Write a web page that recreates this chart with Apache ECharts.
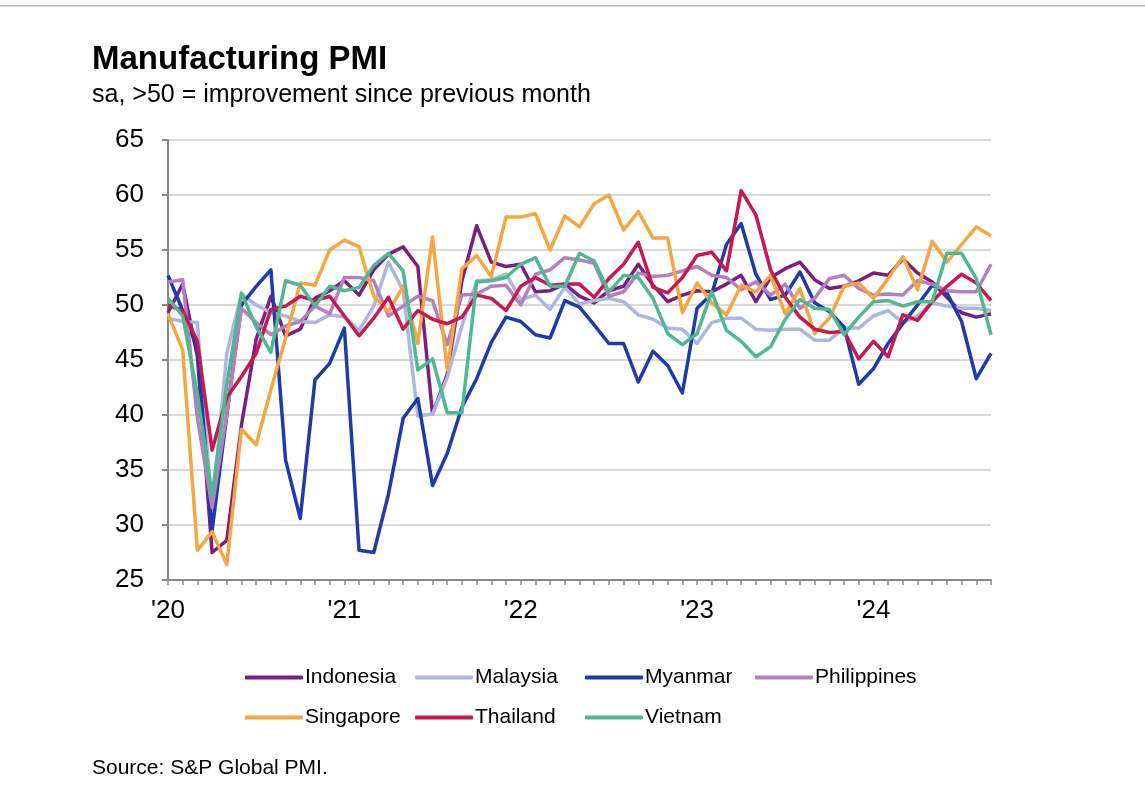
<!DOCTYPE html>
<html><head><meta charset="utf-8">
<script src="https://cdn.jsdelivr.net/npm/echarts@6/dist/echarts.min.js"></script>
<style>html,body{margin:0;padding:0;background:#fff;}#c{width:1145px;height:806px;}</style>
</head><body><div id="c"></div>
<script>
const months = [
 "2020-01","2020-02","2020-03","2020-04","2020-05","2020-06","2020-07","2020-08","2020-09","2020-10","2020-11","2020-12",
 "2021-01","2021-02","2021-03","2021-04","2021-05","2021-06","2021-07","2021-08","2021-09","2021-10","2021-11","2021-12",
 "2022-01","2022-02","2022-03","2022-04","2022-05","2022-06","2022-07","2022-08","2022-09","2022-10","2022-11","2022-12",
 "2023-01","2023-02","2023-03","2023-04","2023-05","2023-06","2023-07","2023-08","2023-09","2023-10","2023-11","2023-12",
 "2024-01","2024-02","2024-03","2024-04","2024-05","2024-06","2024-07","2024-08","2024-09"
];
const yearTickLabels = {"2020-01":"'20","2021-01":"'21","2022-01":"'22","2023-01":"'23","2024-01":"'24"};
const yTicks = {min:25, max:65, interval:5};

const indonesia = [49.3,51.9,45.3,27.5,28.6,39.1,46.9,50.8,47.2,47.8,50.6,51.3, 52.2,50.9,53.2,54.6,55.3,53.5,40.1,43.7,52.2,57.2,53.9,53.5, 53.7,51.2,51.3,51.9,50.8,50.2,51.3,51.7,53.7,51.8,50.3,50.9, 51.3,51.2,51.9,52.7,50.3,52.5,53.3,53.9,52.3,51.5,51.7,52.2, 52.9,52.7,54.2,52.9,52.1,50.7,49.3,48.9,49.2];
const malaysia = [48.8,48.5,48.4,31.3,45.6,51.0,50.0,49.3,49.0,48.5,48.4,49.1, 48.9,47.7,49.9,53.9,51.3,39.9,40.1,43.4,48.1,52.2,52.3,52.8, 50.5,50.9,49.6,51.6,50.1,50.4,50.6,50.3,49.1,48.7,47.9,47.8, 46.5,48.4,48.8,48.8,47.8,47.7,47.8,47.8,46.8,46.8,47.9,47.9, 49.0,49.5,48.4,49.0,50.2,49.9,49.7,49.7,49.5];
const myanmar = [52.7,49.5,46.0,29.5,40.0,50.0,51.7,53.2,35.9,30.6,43.2,44.7, 47.9,27.7,27.5,32.8,39.7,41.5,33.6,36.5,40.7,43.3,46.6,48.9, 48.5,47.3,47.0,50.4,49.8,48.2,46.5,46.5,43.0,45.8,44.5,42.0, 49.7,51.0,55.5,57.4,52.8,50.5,50.9,53.0,50.2,49.4,48.0,42.8, 44.2,46.5,48.3,50.0,51.8,51.1,48.5,43.3,45.6];
const philippines = [52.1,52.3,39.7,31.6,40.1,49.7,48.4,47.3,48.1,48.5,49.9,49.2, 52.5,52.5,52.2,49.0,49.9,50.8,50.4,46.4,50.9,51.0,51.7,51.8, 50.0,52.8,53.2,54.3,54.1,53.8,50.8,51.2,52.9,52.6,52.7,53.1, 53.5,52.7,52.5,51.4,52.1,50.9,51.9,49.7,50.6,52.4,52.7,51.5, 50.9,51.0,50.9,52.2,51.9,51.3,51.2,51.2,53.7];
const singapore = [49.2,45.9,27.7,29.4,26.4,38.7,37.3,42.3,47.0,52.0,51.8,55.0, 55.9,55.3,50.8,49.4,51.7,46.5,56.2,44.1,53.3,54.5,52.6,58.0, 58.0,58.3,55.0,58.1,57.1,59.2,60.0,56.8,58.5,56.1,56.1,49.3, 52.0,50.2,49.1,51.8,51.2,52.7,49.2,51.5,47.4,48.8,51.7,52.0, 50.6,52.4,54.4,51.4,55.8,53.9,55.5,57.1,56.3];
const thailand = [50.0,49.5,46.7,36.8,41.6,43.5,45.6,49.6,49.9,50.8,50.4,50.8, 49.0,47.2,48.8,50.7,47.8,49.5,48.7,48.3,48.9,50.9,50.6,49.5, 51.7,52.5,51.8,51.9,51.9,50.7,52.4,53.7,55.7,51.6,51.1,52.5, 54.5,54.8,53.1,60.4,58.2,53.2,50.7,48.9,47.8,47.5,47.6,45.1, 46.7,45.3,49.1,48.6,50.3,51.7,52.8,52.0,50.4];
const vietnam = [50.6,49.0,41.9,32.7,42.7,51.1,48.0,45.7,52.2,51.8,49.9,51.7, 51.3,51.6,53.6,54.7,53.1,44.1,45.1,40.2,40.2,52.1,52.2,52.5, 53.7,54.3,51.7,51.7,54.7,54.0,51.2,52.7,52.5,50.6,47.4,46.4, 47.4,51.2,47.7,46.7,45.3,46.2,48.7,50.5,49.7,49.6,47.3,48.9, 50.3,50.4,49.9,50.3,50.3,54.7,54.7,52.4,47.3];

const seriesNames = ["Indonesia","Malaysia","Myanmar","Philippines","Singapore","Thailand","Vietnam"];
const seriesData = [indonesia, malaysia, myanmar, philippines, singapore, thailand, vietnam];
const seriesColors = ["#7a1f80","#adb6df","#1f3ba8","#b37fbf","#f4a741","#c41a4f","#4fb893"];

const FONT = '"Liberation Sans", Arial, Helvetica, sans-serif';
const chart = echarts.init(document.getElementById('c'), null, {renderer:'canvas'});

const legends = seriesNames.map((n, k) => ({
  data: [n],
  left: 240 + 170 * (k % 4),
  top: (k < 4 ? 677 : 717) - 15,
  itemWidth: 58, itemHeight: 4, icon: 'roundRect',
  itemGap: 0,
  textStyle: {fontFamily: FONT, fontSize: 21, color: '#000', padding: [0,0,0,-3]},
  selectedMode: false
}));

const option = {
  animation: false,
  backgroundColor: '#fff',
  grid: {left: 168, right: 154, top: 140, bottom: 226, containLabel: false},
  legend: legends,
  xAxis: {
    type: 'category', data: months, boundaryGap: false,
    axisLine: {lineStyle: {color: '#878787', width: 2}},
    axisTick: {show: true, interval: 0, length: 5, lineStyle: {color: '#8a8a8a', width: 1.5}},
    axisLabel: {
      interval: (i, v) => yearTickLabels[v] !== undefined,
      formatter: v => yearTickLabels[v] || '',
      fontFamily: FONT, fontSize: 26, color: '#000', margin: 18
    },
    splitLine: {show: false}
  },
  yAxis: {
    type: 'value', min: yTicks.min, max: yTicks.max, interval: yTicks.interval,
    axisLine: {show: true, lineStyle: {color: '#878787', width: 2}},
    axisTick: {show: true, length: 6, lineStyle: {color: '#878787', width: 2}},
    axisLabel: {fontFamily: FONT, fontSize: 26, color: '#000', margin: 24},
    splitLine: {lineStyle: {color: '#d9d9d9', width: 2}}
  },
  series: seriesNames.map((n, k) => ({
    name: n, type: 'line', data: seriesData[k], symbol: 'none', showSymbol: false,
    color: seriesColors[k],
    lineStyle: {width: 3.5, color: seriesColors[k], join: 'round'},
    itemStyle: {color: seriesColors[k]},
    emphasis: {disabled: true}
  })),
  graphic: [
    {type: 'rect', shape: {x: 0, y: 0, width: 1145, height: 5}, style: {fill: '#f6f6f6'}, silent: true},
    {type: 'rect', shape: {x: 0, y: 5, width: 1145, height: 1.5}, style: {fill: '#b8b8b8'}, silent: true},
    {type: 'text', x: 92, y: 60, style: {text: 'Manufacturing PMI', font: 'bold 33px ' + FONT, fill: '#000', verticalAlign: 'middle', align: 'left'}},
    {type: 'text', x: 92, y: 95, style: {text: 'sa, >50 = improvement since previous month', font: '25px ' + FONT, fill: '#000', verticalAlign: 'middle', align: 'left'}},
    {type: 'text', x: 92, y: 768, style: {text: 'Source: S&P Global PMI.', font: '21px ' + FONT, fill: '#000', verticalAlign: 'middle', align: 'left'}}
  ]
};
chart.setOption(option);
</script>
</body></html>
